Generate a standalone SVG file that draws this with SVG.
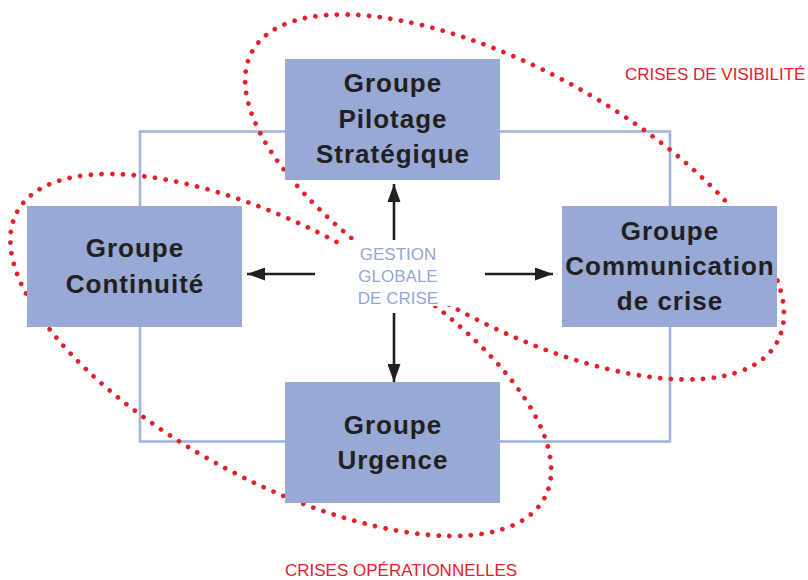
<svg xmlns="http://www.w3.org/2000/svg" width="808" height="580" viewBox="0 0 808 580">
  <style>
    .frame { fill: none; stroke: #a2b3dc; stroke-width: 2.6; }
    .crisis { fill: none; stroke: #e5202b; stroke-width: 4.7; stroke-linecap: round; stroke-dasharray: 0 10.728; }
    .box { fill: #97a9d4; }
    .title { font-family: "Liberation Sans", Arial, sans-serif; font-weight: bold; font-size: 26px; letter-spacing: 1px; fill: #231f20; text-anchor: middle; }
    .hub { font-family: "Liberation Sans", Arial, sans-serif; font-size: 17px; fill: #93a6d5; text-anchor: middle; }
    .zone { font-family: "Liberation Sans", Arial, sans-serif; font-size: 17px; fill: #e5202b; }
    .arrow { fill: none; stroke: #231f20; stroke-width: 2.6; marker-end: url(#head); }
  </style>
  <defs>
    <marker id="head" markerUnits="userSpaceOnUse" markerWidth="18" markerHeight="13" refX="18" refY="6.5" orient="auto">
      <path d="M0,0 L18,6.5 L0,13 Z" fill="#231f20"/>
    </marker>
  </defs>

  <rect width="808" height="580" fill="#ffffff"/>

  <!-- frame linking the four groups -->
  <rect class="frame" x="140" y="131.5" width="530" height="310"/>

  <!-- crisis zones (dotted loops) -->
  <g id="zones">
    <ellipse class="crisis" cx="514.5" cy="197" rx="300" ry="126" transform="rotate(29 514.5 197)"/>
    <ellipse class="crisis" cx="280.75" cy="355" rx="300" ry="126" transform="rotate(28.5 280.75 355)"/>
  </g>

  <g id="pilotage">
    <rect class="box" x="285" y="59" width="215" height="121"/>
    <text class="title" x="393" y="92">Groupe</text>
    <text class="title" x="393" y="128">Pilotage</text>
    <text class="title" x="393" y="163">Stratégique</text>
  </g>

  <g id="continuite">
    <rect class="box" x="27" y="206" width="215" height="121"/>
    <text class="title" x="135" y="257">Groupe</text>
    <text class="title" x="135" y="293">Continuité</text>
  </g>

  <g id="communication">
    <rect class="box" x="562" y="206" width="215" height="121"/>
    <text class="title" x="670" y="240">Groupe</text>
    <text class="title" x="670" y="275">Communication</text>
    <text class="title" x="670" y="310">de crise</text>
  </g>

  <g id="urgence">
    <rect class="box" x="285" y="382" width="215" height="121"/>
    <text class="title" x="393" y="434">Groupe</text>
    <text class="title" x="393" y="469">Urgence</text>
  </g>

  <g id="gestion">
    <rect x="340" y="240" width="113" height="66" fill="#ffffff"/>
    <text class="hub" x="398" y="260">GESTION</text>
    <text class="hub" x="398" y="282">GLOBALE</text>
    <text class="hub" x="398" y="304">DE CRISE</text>
  </g>

  <g id="connectors">
    <line class="arrow" x1="394" y1="240" x2="394" y2="184"/>
    <line class="arrow" x1="394" y1="313" x2="394" y2="382"/>
    <line class="arrow" x1="315" y1="274" x2="247" y2="274"/>
    <line class="arrow" x1="485" y1="274" x2="553" y2="274"/>
  </g>

  <g id="labels">
    <text class="zone" x="625" y="80">CRISES DE VISIBILITÉ</text>
    <text class="zone" x="285" y="576">CRISES OPÉRATIONNELLES</text>
  </g>
</svg>
